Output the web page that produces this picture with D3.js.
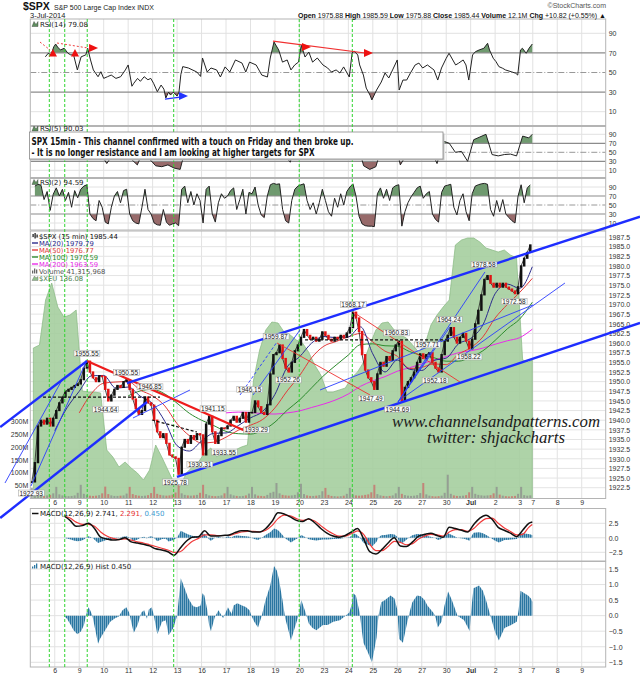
<!DOCTYPE html>
<html><head><meta charset="utf-8">
<script src="https://cdn.jsdelivr.net/npm/d3@7"></script>
<style>
body{margin:0;background:#fff}
</style></head><body>
<svg id="c" width="640" height="679" font-family="Liberation Sans, Arial, sans-serif"></svg>
<script>
// ---------------- DATA ----------------
// trading days: Jun 5 .. Jul 3 (26 fifteen-minute bars per day, Jul 3 half day)
const dayLabels=["6","9","10","11","12","13","16","17","18","19","20","23","24","25","26","27","30","Jul","2","3","7","8","9"];
const dayLabelBars=[26,52,78,104,130,156,182,208,234,260,286,312,338,364,390,416,442,468,494,520,534,560,586];
const priceTicks=[1987.5,1985,1982.5,1980,1977.5,1975,1972.5,1970,1967.5,1965,1962.5,1960,1957.5,1955,1952.5,1950,1947.5,1945,1942.5,1940,1937.5,1935,1932.5,1930,1927.5,1925,1922.5];
const rsiTicks=[90,70,50,30,10];
const volTicks=[50,100,150,200,250,300];
const macdTicks=[2.5,0,-2.5];
const histTicks=[1.5,1,0.5,0,-0.5,-1,-1.5];

// SPX closes, 8 samples per day
const price=[
 [1924,1929,1938.5,1940,1939,1940.5,1938.5,1940.5],
 [1942.5,1944.5,1946,1947.5,1948,1948.5,1949,1949.4],
 [1950.5,1953.5,1955.3,1952.5,1951,1950,1951.5,1951.3],
 [1948,1945,1946.5,1948,1949,1948.5,1950,1950.5],
 [1948,1945.5,1943,1941.5,1942.5,1946,1944.5,1943.9],
 [1940,1937,1935.5,1936.5,1934,1931,1930.5,1930.1],
 [1926,1933,1935,1934,1936,1935,1936.5,1936.2],
 [1931,1939,1941,1937,1934,1936,1938,1937.8],
 [1938.5,1940,1941,1939.5,1940.5,1942,1939.5,1942],
 [1942,1945,1943.5,1942,1941.5,1944,1952,1957],
 [1957.5,1959.5,1956,1953.5,1952.5,1955,1958,1959.5],
 [1961.5,1963.5,1962,1961,1961.5,1960.5,1961,1962.9],
 [1962,1961,1960.5,1961.5,1961,1962,1961.5,1962.6],
 [1964,1968,1966.5,1963,1957,1953,1951,1950],
 [1948,1952,1955,1954,1956.5,1955.5,1958,1959.5],
 [1960.5,1945,1948.5,1950,1951,1952.5,1955,1957.2],
 [1956,1957,1957.5,1955,1953.5,1952.5,1957,1960.5],
 [1962,1964,1961.5,1960,1961.5,1962.5,1960.5,1958.5],
 [1961,1965,1968.5,1972.5,1976.5,1977.5,1975.5,1974.5],
 [1975.5,1974.5,1975.5,1974.5,1974,1973.5,1972.8,1974.6],
 [1980,1982,1983.5,1985.44]
];
// volume (millions), 8 samples per day
const volume=[
 [41,18,14,12,11,12,14,20],[45,16,12,10,9,10,12,22],[53,18,13,11,10,11,13,20],
 [46,17,12,10,10,11,12,19],[45,17,13,11,10,11,13,21],[45,18,14,12,11,12,15,23],
 [53,20,14,12,11,12,14,22],[53,17,12,10,9,10,12,20],[45,16,12,10,9,10,12,19],
 [45,16,11,10,9,14,22,26],[60,20,14,12,11,12,14,24],[57,17,12,10,10,11,13,28],
 [41,14,10,9,8,9,11,18],[41,16,12,11,12,14,16,24],[53,17,12,10,9,10,12,20],
 [45,18,13,11,10,11,13,21],[60,16,11,9,8,9,11,22],[92,18,12,10,10,11,13,24],
 [45,18,14,12,11,12,13,20],[45,15,11,9,8,9,10,18],[45,13,11,12.1]
];
// $XEU, 4 samples per day
const xeu=[
 [136.20,136.23,136.68,136.85],[136.61,136.51,136.53,136.58],[135.77,135.76,135.76,135.75],
 [135.18,135.11,135.01,135.06],[135.00,134.95,134.88,134.98],[135.23,135.11,134.98,134.85],
 [134.81,134.95,135.01,135.06],[135.15,135.20,135.11,135.16],[135.18,135.18,135.21,135.23],
 [135.88,136.18,136.38,136.46],[136.45,136.36,136.33,136.28],[136.25,136.16,136.03,135.93],
 [135.76,135.76,135.78,135.80],[135.90,135.96,136.06,136.23],[136.38,136.45,136.46,136.38],
 [136.33,136.30,136.23,136.16],[136.23,136.43,136.53,136.61],[136.68,137.23,137.28,137.30],
 [137.30,137.26,137.20,137.18],[137.16,137.18,137.13,137.10],[136.08,136.06]
];
const lastBar=533.5;
const last={spx:1985.44,ma20:1979.79,ma50:1976.77,ma100:1970.59,ma200:1963.59,xeu:136.08,rsi14:79.08,rsi5:90.03,rsi2:94.59,macd:2.741,signal:2.291,hist:0.450};
// moving averages at every half-day boundary
const ma20=[null,1937.3,1943.2,1947.5,1951.5,1951.6,1948.3,1948.6,1946.2,1944.3,1939.7,1933.4,1932.0,1934.6,1936.6,1936.7,1938.6,1940.6,1942.3,1946.7,1953.8,1956.4,1960.0,1961.7,1961.4,1961.6,1964.2,1957.2,1952.5,1955.6,1953.2,1952.9,1955.5,1956.1,1959.8,1961.2,1964.7,1972.8,1975.3,1974.2];
const ma50=[null,null,null,1941.9,1946.9,1949.6,1949.9,1950.0,1947.8,1946.3,1943.7,1939.1,1936.0,1934.1,1934.3,1935.6,1937.4,1938.7,1940.2,1943.2,1947.6,1951.5,1956.2,1959.2,1960.4,1961.6,1962.5,1960.3,1957.9,1956.6,1953.4,1953.7,1954.6,1954.4,1957.1,1958.8,1961.6,1966.5,1970.0,1973.1];
const ma100=[null,null,null,null,null,null,null,1946.3,1947.6,1948.0,1946.8,1944.4,1941.8,1940.0,1938.6,1937.1,1936.5,1936.4,1937.4,1939.5,1942.6,1945.2,1948.4,1951.6,1954.3,1956.9,1959.6,1959.8,1959.3,1959.2,1957.8,1956.8,1956.2,1955.3,1955.3,1956.4,1958.0,1960.7,1963.7,1966.2];
const ma200=[null,null,null,null,null,null,null,null,null,null,null,null,null,null,null,1941.9,1942.1,1942.0,1941.7,1941.6,1941.9,1942.4,1943.3,1944.2,1945.3,1946.8,1948.8,1950.2,1951.3,1952.7,1953.6,1954.6,1955.6,1956.5,1957.5,1958.0,1958.7,1959.7,1960.6,1961.4];
// RSI(14) as [bar, value]
const rsi14=[[16,66],[19,69.6],[22,68],[25,76.3],[27,79],[29,76],[32,73],[36,74.7],[40,69.6],[43,68],[46,68],[50,52.6],[54,66],[59,68],[61,74.7],[64,62.8],[67,52.6],[72,45.7],[75,50.8],[78,44],[82,45.7],[86,47.4],[91,44],[96,45.7],[101,52.6],[104,57.7],[108,36],[110,39],[114,44],[117,41],[121,45.7],[125,42.6],[128,44],[131,39],[135,30.4],[139,37.2],[142,33],[144,24],[147,30],[149,27],[152,30],[156,26],[158,30],[160,48],[162,56],[168,54.6],[177,50.5],[181,46],[183,64.8],[188,50.5],[192,54.6],[198,52.6],[202,45.4],[207,55.7],[212,50.5],[218,62.8],[225,59.6],[229,50.5],[233,60.6],[240,57.7],[246,47.4],[252,45.4],[255,64.8],[259,81.1],[264,73],[268,60.6],[273,62.8],[277,52.6],[281,57.7],[285,60.6],[288,78],[292,65.8],[296,70.9],[300,60.6],[305,64.8],[311,57.7],[316,54.6],[320,50.5],[325,52.6],[329,49.5],[333,55.7],[339,45.4],[342,69.9],[344,72],[348,67.9],[350,57.7],[354,47.4],[357,34.1],[361,27],[363,22],[368,32.1],[373,40.3],[377,49.5],[381,44.4],[385,52.6],[390,62.8],[392,32.1],[396,42.3],[400,42.3],[404,49.5],[409,57.7],[413,59.6],[417,54.6],[422,57.7],[429,52.6],[433,42.3],[437,54.6],[442,64.5],[445,69.6],[449,62.8],[452,57.7],[455,59.4],[460,62.8],[463,57.7],[466,42.3],[470,67.9],[473,71.2],[477,73],[482,74.7],[486,79.8],[488,73],[492,64.5],[495,61],[498,56],[502,54.3],[505,52.6],[511,50.8],[516,49.2],[518,47.4],[521,73],[523,74.7],[527,69.6],[530,74.7],[533.5,79.08]];
// RSI(5), 4 samples per day
const rsi5=[
 [null,85,80,78],[82,80,78,80],[88,55,42,48],[25,45,60,68],[35,22,55,35],[20,18,22,15],
 [12,65,62,60],[45,75,40,55],[60,62,58,65],[70,45,60,92],[94,45,28,75],[88,65,50,70],
 [55,48,60,65],[88,70,20,12],[18,65,70,80],[22,45,60,75],[70,55,25,75],[70,50,52,30],
 [78,84,90,45],[42,45,46,42],[86,82]
];
// RSI(2), 8 samples per day
const rsi2=[
 [null,92,96,94,62,80,38,74],[88,70,85,60,78,45,82,66],[85,92,95,30,20,15,60,45],
 [12,8,45,70,80,55,82,85],[30,15,10,8,45,85,40,30],[10,6,5,40,12,5,8,10],
 [4,85,92,55,80,50,75,60],[10,85,92,30,12,55,75,65],[70,82,88,40,62,85,30,78],
 [75,90,50,28,22,70,95,98],[96,97,40,15,10,60,85,92],[95,97,60,40,55,30,55,85],
 [60,35,25,65,45,75,50,80],[90,97,70,25,8,4,3,3],[2,75,88,65,85,60,88,93],
 [95,3,35,55,68,78,88,92],[65,75,80,30,18,12,78,92],[94,96,45,28,60,75,35,15],
 [75,92,95,97,98,96,40,25],[60,35,62,30,22,15,10,70],[95,55,88,94.59]
];
// MACD(12,26,9) line and signal, 4 samples per day
const macd=[
 [null,null,null,null],[null,3.8,3.0,2.0],[2.1,2.5,1.6,0.1],[-0.2,-0.4,-0.3,0.0],
 [-0.7,-0.9,-1.1,-1.4],[-1.9,-2.1,-2.4,-3.0],[-1.8,-0.6,0.1,0.2],[1.2,0.3,0.3,0.4],
 [0.5,0.9,1.2,1.2],[1.0,1.0,1.6,2.8],[4.3,4.1,3.6,3.0],[2.8,3.3,2.6,1.6],
 [0.8,0.3,0.1,0.4],[1.0,1.6,-0.2,-2.4],[-2.8,-2.0,-0.9,0.0],[-1.4,-1.5,-0.7,0.3],
 [0.6,0.8,0.4,0.1],[1.8,1.6,1.3,1.0],[2.3,3.4,3.9,3.2],[1.8,1.3,0.8,0.2],[1.3,2.5]
];
const signal=[
 [null,null,null,null],[null,3.7,3.4,2.7],[2.3,2.3,2.0,1.0],[0.3,-0.1,-0.3,-0.2],
 [-0.4,-0.7,-0.9,-1.2],[-1.5,-1.8,-2.1,-2.5],[-2.4,-1.5,-0.6,-0.1],[0.5,0.5,0.4,0.4],
 [0.4,0.7,1.0,1.1],[1.1,1.0,1.3,2.1],[3.3,3.9,3.8,3.3],[3.0,3.2,2.9,2.1],
 [1.3,0.7,0.3,0.3],[0.7,1.2,0.6,-1.1],[-2.2,-2.2,-1.5,-0.6],[-0.8,-1.2,-1.0,-0.2],
 [0.3,0.6,0.5,0.3],[1.0,1.4,1.4,1.1],[1.6,2.6,3.3,3.4],[2.5,1.7,1.1,0.5],[0.6,1.8]
];
// MACD histogram as [bar, value]
const hist=[[36,-0.02],[39,-0.1],[43,-0.3],[46,-0.47],[50,-0.6],[54,-0.5],[57,-0.3],[60,0.1],[62,0.27],[64,0.15],[66,0],[68,-0.3],[72,-0.9],[74,-0.75],[77,-0.6],[81,-0.4],[85,-0.2],[90,-0.08],[94,-0.03],[98,0.17],[102,0.27],[105,0.1],[108,-0.3],[110,-0.55],[114,-0.3],[118,0.1],[121,0.17],[124,-0.1],[126,0.2],[129,0.27],[131,0.05],[135,-0.6],[140,-0.2],[144,-0.15],[147,-0.63],[152,-0.4],[156,0],[158,0.6],[160,1.2],[164,0.88],[168,0.55],[173,0.3],[177,0.27],[181,0.33],[183,0.72],[185,0.65],[188,0.2],[190,-0.3],[192,-0.5],[196,-0.05],[200,0.17],[205,-0.08],[210,0.27],[214,0.05],[216,0.33],[220,0.4],[225,0.33],[229,0.28],[233,0.17],[235,0],[238,-0.2],[242,-0.38],[246,0],[250,0.5],[255,0.97],[259,1.6],[262,1.45],[264,1.2],[268,0.5],[271,-0.1],[275,-0.55],[277,-0.8],[281,-0.4],[285,0],[288,0.5],[292,0.15],[296,-0.25],[300,-0.4],[304,-0.47],[311,-0.3],[316,-0.3],[322,-0.2],[329,-0.15],[335,0],[339,0.1],[342,0.4],[343,0.72],[346,0.65],[350,0.1],[352,-0.4],[354,-0.87],[359,-1.2],[363,-1.5],[365,-1.2],[368,-0.7],[370,0],[373,0.43],[377,0.5],[383,0.65],[387,0.55],[390,0.2],[392,-0.75],[396,-0.87],[400,-0.3],[403,0.1],[406,0.43],[411,0.65],[415,0.62],[419,0.5],[422,0.33],[429,0.07],[431,-0.1],[433,-0.38],[437,-0.2],[440,0.3],[444,0.78],[448,0.5],[454,0],[461,-0.15],[467,-0.5],[468,0],[471,0.88],[477,0.97],[481,0.8],[485,0.43],[489,0],[494,-0.53],[498,-0.8],[504,-0.4],[511,-0.3],[517,-0.2],[519,0.2],[521,0.8],[525,0.72],[529,0.65],[532,0.55],[533.5,0.45]];

// chartist annotations (bar, price)
const pivots=[[1922.93,1,"b"],[1955.55,60,"a"],[1950.55,102,"a"],[1946.85,127,"a"],[1944.64,80,"b"],[1941.15,194,"a"],[1946.15,233,"a"],[1939.29,240,"b"],[1933.55,206,"b"],[1930.31,180,"b"],[1925.78,154,"b"],[1959.87,261,"a"],[1952.26,274,"b"],[1968.17,343,"a"],[1960.83,389,"a"],[1957.71,422,"a"],[1964.24,445,"a"],[1978.58,482,"a"],[1972.58,514,"b"],[1958.22,466,"b"],[1952.18,430,"b"],[1947.49,362,"b"],[1944.69,390,"b"]];
const thickBlue=[[-32,1938.24,60.3,1955.35],[-32,1914.65,124,1944.72],[102.8,1949.62,648,1992.76],[155.9,1925.28,648,1965.2]];
const thinBlue=[[0.7,1922.94,59.2,1955.1],[-26.9,1923.72,33.7,1950.42],[109.1,1940.57,169.7,1947.83],[236.7,1946.54,286.6,1963.39],[390.8,1944.72,483.2,1978.43],[392.9,1945.24,568.2,1975.57],[307.9,1947.83,534.2,1969.87],[390.8,1944.72,446,1964.17],[390.8,1944.72,424.8,1957.68]];
const dashedBlue=[[222.9,1946.54,262.2,1960.28]];
const thickRed=[[60.3,1955.35,233.5,1936.68]];
const thinRed=[[342.9,1968.06,456.6,1949.9],[262.2,1960.02,361,1946.54]];
const blackDash=[[13.5,1946.0,137.8,1946.0],[129.3,1940.05,177.1,1936.94],[292,1960.83,443,1960.83]];
const greenVerticals=[20.2,36.6,60.5,152.4,285.8,342.2];
// RSI(14) annotations (bar, rsi)
const rsiRedDash=[[10.3,81.1,20.9,73.0],[28.4,80.1,61.3,75.0]];
const rsiRedLine=[[257.9,82.1,355.7,69.9]];
const rsiBlueLine=[[143.1,22.9,159.1,24.9]];
const rsiRedUp=[[24.1,69.9],[47.5,69.9]];
const rsiRedRight=[[66.7,75.0],[293,76.0],[358.9,69.9]];
const rsiBlueRight=[[162.3,26.0]];

// ---------------- LAYOUT ----------------
const svg=d3.select('#c');
const X0=30.3,X1=605.7;
const x=d3.scaleLinear().domain([0,611.5]).range([X0,X1]);
const P={r14:{t:19,b:125.5},r5:{t:126.5,b:177.5},r2:{t:178.5,b:230},main:{t:231,b:498.5},macd:{t:508.5,b:561},hist:{t:561.5,b:667}};
const y=d3.scaleLinear().domain([1922.5,1987.5]).range([487.7,237]);
const yv=d3.scaleLinear().domain([0,300]).range([498.5,421]);
const yx=d3.scaleLinear().domain([136.08,137.08]).range([360,260]);
const y14=d3.scaleLinear().domain([10,90]).range([111.7,33.3]);
const y5=d3.scaleLinear().domain([10,90]).range([170.3,134.3]);
const y2=d3.scaleLinear().domain([10,90]).range([223,187]);
const ym=d3.scaleLinear().domain([-2.5,2.5]).range([552.3,523.3]);
const yh=d3.scaleLinear().domain([-1.5,1.5]).range([662.3,569]);

function flat(arr,n){const o=[];arr.forEach((day,d)=>day.forEach((v,j)=>{if(v!=null)o.push({bar:26*d+(j+0.5)*26/n,v});}));return o;}
function halfDays(arr,lv){const o=[];arr.forEach((v,h)=>{if(v!=null)o.push({bar:13*(h+1),v});});o.push({bar:lastBar,v:lv});return o;}
const pairs=a=>a.map(d=>({bar:d[0],v:d[1]}));

const defs=svg.append('defs');
function clip(id,t,b){defs.append('clipPath').attr('id',id).append('rect').attr('x',X0).attr('y',t).attr('width',X1-X0).attr('height',b-t);}
Object.entries(P).forEach(([k,p])=>clip('c-'+k,p.t,p.b));
const pat=defs.append('pattern').attr('id','stripe').attr('patternUnits','userSpaceOnUse').attr('width',2).attr('height',8);
pat.append('rect').attr('width',2).attr('height',8).attr('fill','#b4d2e2');
pat.append('rect').attr('width',1.4).attr('height',8).attr('fill','#2a76a1');

// backgrounds
Object.values(P).forEach(p=>svg.append('rect').attr('x',X0).attr('y',p.t).attr('width',X1-X0).attr('height',p.b-p.t).attr('fill','#fff'));

function vgrid(g,p){dayLabelBars.forEach(b=>g.append('line').attr('x1',x(b)).attr('x2',x(b)).attr('y1',p.t).attr('y2',p.b).attr('stroke','#e2e2e2').attr('stroke-width',1));}
function hline(g,yy,col,w,dash){const l=g.append('line').attr('x1',X0).attr('x2',X1).attr('y1',yy).attr('y2',yy).attr('stroke',col).attr('stroke-width',w);if(dash)l.attr('stroke-dasharray',dash);return l;}
function rightAxis(sc,ticks,fmt){
  const g=svg.append('g').attr('transform',`translate(${X1},0)`).call(d3.axisRight(sc).tickValues(ticks).tickFormat(fmt).tickSize(0).tickPadding(3));
  g.select('.domain').remove();
  g.attr('font-family','Liberation Sans, Arial, sans-serif');
  g.selectAll('text').attr('font-size',7).attr('fill','#333');
}
const lineGen=sc=>d3.line().x(d=>x(d.bar)).y(d=>sc(d.v));

// ---------- RSI panels ----------
function rsiPanel(key,sc,pts){
  const p=P[key];
  const g=svg.append('g').attr('clip-path',`url(#c-${key})`);
  vgrid(g,p);
  hline(g,sc(90),'#e2e2e2',1);hline(g,sc(10),'#e2e2e2',1);
  clip('hi-'+key,p.t,sc(70));clip('lo-'+key,sc(30),p.b);
  g.append('path').datum(pts).attr('clip-path',`url(#hi-${key})`).attr('fill','#5f8f5f').attr('opacity',0.9)
   .attr('d',d3.area().x(d=>x(d.bar)).y0(sc(70)).y1(d=>sc(d.v)));
  g.append('path').datum(pts).attr('clip-path',`url(#lo-${key})`).attr('fill','#8d5b5b').attr('opacity',0.9)
   .attr('d',d3.area().x(d=>x(d.bar)).y0(sc(30)).y1(d=>sc(d.v)));
  hline(g,sc(70),'#8c8c8c',1.2);hline(g,sc(30),'#8c8c8c',1.2);hline(g,sc(50),'#8c8c8c',0.9,'6,2,1,2');
  g.append('path').datum(pts).attr('fill','none').attr('stroke','#222').attr('stroke-width',1).attr('d',lineGen(sc));
  rightAxis(sc,rsiTicks,d3.format('d'));
  return g;
}
rsiPanel('r14',y14,pairs(rsi14));
const r5pts=flat(rsi5,4);r5pts.push({bar:lastBar,v:last.rsi5});
rsiPanel('r5',y5,r5pts);
rsiPanel('r2',y2,flat(rsi2,8));

// ---------- MAIN ----------
const gm=svg.append('g').attr('clip-path','url(#c-main)');
vgrid(gm,P.main);
priceTicks.forEach(t=>hline(gm,y(t),'#e4e4e4',1));
const xeuPts=flat(xeu,4);xeuPts.push({bar:lastBar,v:last.xeu});
gm.append('path').datum(xeuPts).attr('fill','#a3cd9c').attr('fill-opacity',0.88).attr('stroke','#86b881').attr('stroke-width',0.7)
  .attr('d',d3.area().x(d=>x(d.bar)).y0(P.main.b).y1(d=>yx(d.v)));
const pp=flat(price,8);
pp.forEach((d,i)=>{d.o=i?pp[i-1].v:d.v;d.up=d.v>=d.o;});
const vp=flat(volume,8);
gm.selectAll('rect.vol').data(vp).join('rect').attr('x',d=>x(d.bar)-1).attr('width',2).attr('y',d=>yv(d.v)).attr('height',d=>yv(0)-yv(d.v))
  .attr('fill',(d,i)=>pp[i]&&!pp[i].up?'#c96a6a':'#8c8c8c').attr('opacity',0.75);
[[ma200,last.ma200,'#e82ce8'],[ma100,last.ma100,'#2e8b2e'],[ma50,last.ma50,'#e23b3b'],[ma20,last.ma20,'#2b2b8c']].forEach(([a,lv,c])=>{
  gm.append('path').datum(halfDays(a,lv)).attr('fill','none').attr('stroke',c).attr('stroke-width',1).attr('d',lineGen(y).curve(d3.curveMonotoneX));
});
gm.append('path').datum(pp).attr('fill','none').attr('stroke','#222').attr('stroke-width',0.8).attr('d',lineGen(y));
gm.selectAll('rect.cd').data(pp).join('rect').attr('x',d=>x(d.bar)-1.25).attr('width',2.5)
  .attr('y',d=>y(Math.max(d.o,d.v))-0.6).attr('height',d=>Math.max(1.6,y(Math.min(d.o,d.v))-y(Math.max(d.o,d.v))+1.2))
  .attr('fill',d=>d.up?'#111':'#e01414');
rightAxis(y,priceTicks,d3.format('.1f'));
const la=svg.append('g').attr('transform',`translate(${X0},0)`).call(d3.axisLeft(yv).tickValues(volTicks).tickFormat(d=>d+'M').tickSize(0).tickPadding(2));
la.select('.domain').remove();la.attr('font-family','Liberation Sans, Arial, sans-serif');la.selectAll('text').attr('font-size',7).attr('fill','#333');

// ---------- MACD ----------
const gmc=svg.append('g').attr('clip-path','url(#c-macd)');
vgrid(gmc,P.macd);
macdTicks.forEach(t=>hline(gmc,ym(t),'#e2e2e2',1));
const histPts=pairs(hist);
gmc.append('path').datum(histPts).attr('fill','url(#stripe)').attr('d',d3.area().x(d=>x(d.bar)).y0(ym(0)).y1(d=>ym(d.v)));
const sigPts=flat(signal,4);sigPts.push({bar:lastBar,v:last.signal});
const macdPts=flat(macd,4);macdPts.push({bar:lastBar,v:last.macd});
gmc.append('path').datum(sigPts).attr('fill','none').attr('stroke','#f03a3a').attr('stroke-width',1.2).attr('d',lineGen(ym).curve(d3.curveMonotoneX));
gmc.append('path').datum(macdPts).attr('fill','none').attr('stroke','#111').attr('stroke-width',1.5).attr('d',lineGen(ym).curve(d3.curveMonotoneX));
rightAxis(ym,macdTicks,d3.format('.1f'));

const gh=svg.append('g').attr('clip-path','url(#c-hist)');
vgrid(gh,P.hist);
histTicks.forEach(t=>hline(gh,yh(t),'#e2e2e2',1));
gh.append('path').datum(histPts).attr('fill','url(#stripe)').attr('d',d3.area().x(d=>x(d.bar)).y0(yh(0)).y1(d=>yh(d.v)));
rightAxis(yh,histTicks,d3.format('.1f'));

// x axes
function xAxis(yy){
  const g=svg.append('g').attr('transform',`translate(0,${yy})`).call(d3.axisBottom(x).tickValues(dayLabelBars).tickFormat((d,i)=>dayLabels[i]).tickSize(0).tickPadding(1.5));
  g.select('.domain').remove();
  g.attr('font-family','Liberation Sans, Arial, sans-serif');
  g.selectAll('text').attr('font-size',7).attr('fill','#333').attr('font-weight',(d,i)=>dayLabels[i]==='Jul'?'bold':'normal');
}
xAxis(P.main.b);xAxis(P.hist.b);

// frames
Object.values(P).forEach(p=>svg.append('rect').attr('x',X0).attr('y',p.t).attr('width',X1-X0).attr('height',p.b-p.t).attr('fill','none').attr('stroke','#b4b4b4').attr('stroke-width',1));

// green dashed verticals
greenVerticals.forEach(b=>svg.append('line').attr('x1',x(b)).attr('x2',x(b)).attr('y1',P.r14.t).attr('y2',P.hist.b).attr('stroke','#2fd42f').attr('stroke-width',1).attr('stroke-dasharray','3,2'));

// trend lines on main panel
const an=svg.append('g');
function seg(list,col,w,dash){list.forEach(s=>{const l=an.append('line').attr('x1',x(s[0])).attr('y1',y(s[1])).attr('x2',x(s[2])).attr('y2',y(s[3])).attr('stroke',col).attr('stroke-width',w);if(dash)l.attr('stroke-dasharray',dash);});}
seg(thinRed,'#ee3030',0.9);
seg(thinBlue,'#2a3cff',0.9);
seg(dashedBlue,'#2a3cff',0.9,'3,2');
seg(blackDash,'#111',1.2,'3,2');
seg(thickRed,'#ee1c1c',2.2);
seg(thickBlue,'#1e2dff',2.4);

// pivot labels
pivots.forEach(([v,b,pos])=>{
  const lg=an.append('g');
  const t=lg.append('text').attr('x',x(b)).attr('y',y(v)+(pos==='a'?-7:7)).attr('text-anchor','middle').attr('dominant-baseline','central')
    .attr('font-size',6.5).attr('fill','#222').text(v.toFixed(2));
  const bb=t.node().getBBox();
  lg.insert('rect','text').attr('x',bb.x-1).attr('y',bb.y+0.5).attr('width',bb.width+2).attr('height',bb.height-1).attr('fill','#fff').attr('fill-opacity',0.92).attr('stroke','#9a9a9a').attr('stroke-width',0.5);
});

// watermark
an.append('text').attr('x',496).attr('y',427).attr('text-anchor','middle').attr('font-family','Liberation Serif, DejaVu Serif, serif').attr('font-style','italic')
  .attr('font-size',16).attr('fill','#1a1a1a').attr('textLength',208).attr('lengthAdjust','spacingAndGlyphs').text('www.channelsandpatterns.com');
an.append('text').attr('x',496).attr('y',443).attr('text-anchor','middle').attr('font-family','Liberation Serif, DejaVu Serif, serif').attr('font-style','italic')
  .attr('font-size',16).attr('fill','#1a1a1a').attr('textLength',138).attr('lengthAdjust','spacingAndGlyphs').text('twitter: shjackcharts');

// RSI(14) annotations
function rseg(list,col,w,dash){list.forEach(s=>{const l=an.append('line').attr('x1',x(s[0])).attr('y1',y14(s[1])).attr('x2',x(s[2])).attr('y2',y14(s[3])).attr('stroke',col).attr('stroke-width',w);if(dash)l.attr('stroke-dasharray',dash);});}
rseg(rsiRedDash,'#f04040',1,'2,2');rseg(rsiRedLine,'#f03030',1.2);rseg(rsiBlueLine,'#2233ff',1.2);
function tri(list,col,dir){list.forEach(([b,v])=>{const cx=x(b),cy=y14(v);
  const pts=dir==='up'?[[cx-4,cy+3.5],[cx+4,cy+3.5],[cx,cy-4]]:[[cx-4,cy-4],[cx-4,cy+4],[cx+5,cy]];
  an.append('polygon').attr('points',pts.map(p=>p.join(',')).join(' ')).attr('fill',col);});}
tri(rsiRedUp,'#ee1111','up');tri(rsiRedRight,'#ee1111','right');tri(rsiBlueRight,'#2233ff','right');

// ---------- TEXT ----------
const lab=(xx,yy,txt,sz,col,extra)=>{const t=svg.append('text').attr('x',xx).attr('y',yy).attr('font-size',sz).attr('fill',col||'#222').text(txt);if(extra)extra(t);return t;};
lab(23,10,'$SPX',10.5,'#111',t=>t.attr('font-weight','bold'));
lab(54,10,'S&P 500 Large Cap Index  INDX',7,'#222');
lab(30,18,'3-Jul-2014',7.5,'#222');
lab(606,7.5,'©StockCharts.com',7,'#555',t=>t.attr('text-anchor','end'));
const hdr=svg.append('text').attr('x',606).attr('y',18).attr('font-size',7).attr('fill','#111').attr('text-anchor','end');
[['Open ',1],['1975.88 ',0],['High ',1],['1985.59 ',0],['Low ',1],['1975.88 ',0],['Close ',1],['1985.44 ',0],['Volume ',1],['12.1M ',0],['Chg ',1],['+10.82 (+0.55%) ',0],['▲',0]]
  .forEach(([s,b])=>hdr.append('tspan').attr('font-weight',b?'bold':'normal').text(s));

const small="DejaVu Sans, Verdana, sans-serif";
function plabel(yy,parts,icon){
  const t=svg.append('text').attr('x',40).attr('y',yy).attr('font-size',7).attr('font-family',small);
  parts.forEach(([s,c])=>t.append('tspan').attr('fill',c).text(s));
  if(icon)icon(yy);
}
const mount=yy=>svg.append('path').attr('d',`M32,${yy} L34,${yy-5} L36,${yy-2} L38,${yy-5} L38,${yy} Z`).attr('fill','#5f8f5f').attr('stroke','#333').attr('stroke-width',0.4);
plabel(26.5,[['RSI(14) '+last.rsi14.toFixed(2),'#222']],mount);
plabel(131,[['RSI(5) '+last.rsi5.toFixed(2),'#222']],mount);
plabel(184.5,[['RSI(2) '+last.rsi2.toFixed(2),'#222']],mount);
plabel(516,[['MACD(12,26,9) '+last.macd.toFixed(3)+', ','#111'],[last.signal.toFixed(3)+', ','#e53030'],[last.hist.toFixed(3),'#3a9ad0']],yy=>svg.append('line').attr('x1',32).attr('x2',38.5).attr('y1',yy-2.5).attr('y2',yy-2.5).attr('stroke','#111').attr('stroke-width',1.5));
plabel(568.5,[['MACD(12,26,9) Hist '+last.hist.toFixed(3),'#222']],yy=>{[32,34,36].forEach((xx,i)=>svg.append('rect').attr('x',xx).attr('y',yy-2-i*1.5).attr('width',1.3).attr('height',2+i*1.5).attr('fill','#2c78a3'));});

// main legend
const legend=[
 ['$SPX (15 min) '+last.spx.toFixed(2),'#111',null],
 ['MA(20) '+last.ma20.toFixed(2),'#2b2b8c','#2b2b8c'],
 ['MA(50) '+last.ma50.toFixed(2),'#e23b3b','#e23b3b'],
 ['MA(100) '+last.ma100.toFixed(2),'#2e8b2e','#2e8b2e'],
 ['MA(200) '+last.ma200.toFixed(2),'#e82ce8','#e82ce8'],
 ['Volume 41,315,968','#555',null],
 ['$XEU '+last.xeu.toFixed(2),'#4f7f4f',null]
];
legend.forEach(([s,c,lc],i)=>{
  const yy=238.5+i*7;
  svg.append('text').attr('x',39).attr('y',yy).attr('font-size',6.8).attr('font-family',small).attr('fill',c).text(s);
  if(lc)svg.append('line').attr('x1',32).attr('x2',38).attr('y1',yy-2.5).attr('y2',yy-2.5).attr('stroke',lc).attr('stroke-width',1.4);
});
[[32.5,234,237],[34.5,233,238.5],[36.5,234.5,237.5]].forEach(([xx,a,b])=>svg.append('rect').attr('x',xx).attr('y',a).attr('width',1.2).attr('height',b-a).attr('fill','#111'));
[[32,3],[34,5],[36,4]].forEach(([xx,h])=>svg.append('rect').attr('x',xx).attr('y',273.5-h).attr('width',1.3).attr('height',h).attr('fill','#666'));
svg.append('path').attr('d','M32,280.5 L34.5,276 L36,278 L38,276.5 L38,280.5 Z').attr('fill','#8fbf8a').attr('stroke','#666').attr('stroke-width',0.4);

// note box
svg.append('rect').attr('x',31).attr('y',133.5).attr('width',413.5).attr('height',27).attr('fill','#c8c8c8');
svg.append('rect').attr('x',29.5).attr('y',132).attr('width',413.5).attr('height',27).attr('fill','#fff').attr('stroke','#8a8a8a').attr('stroke-width',0.8);
const note="Liberation Sans Narrow, DejaVu Sans Condensed, Liberation Sans, sans-serif";
svg.append('text').attr('x',31.5).attr('y',145.2).attr('font-family',note).attr('font-weight','bold').attr('font-size',9.6).attr('fill','#111')
  .attr('textLength',322).attr('lengthAdjust','spacingAndGlyphs').text('SPX 15min - This channel confirmed with a touch on Friday and then broke up.');
svg.append('text').attr('x',31.5).attr('y',156.2).attr('font-family',note).attr('font-weight','bold').attr('font-size',9.6).attr('fill','#111')
  .attr('textLength',283).attr('lengthAdjust','spacingAndGlyphs').text('- It is no longer resistance and I am looking at higher targets for SPX');
</script></body></html>
